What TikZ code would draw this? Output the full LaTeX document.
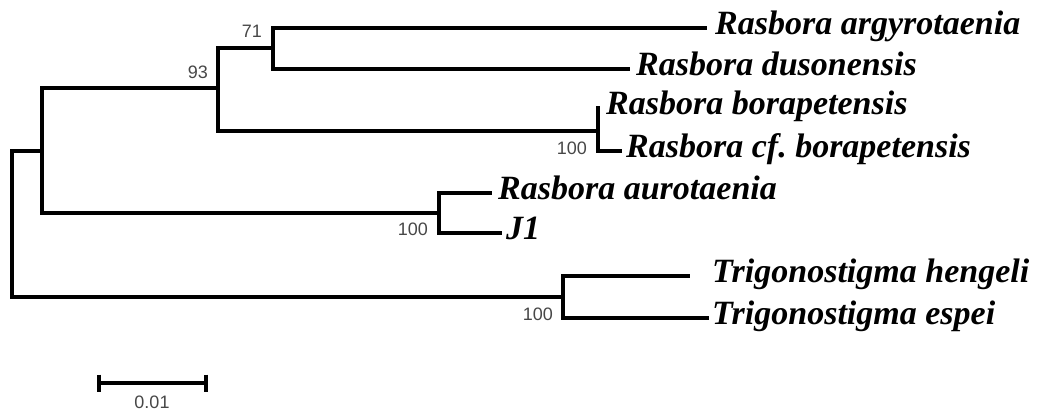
\documentclass[tikz,border=0pt]{standalone}
\usepackage{fontspec}
\setmainfont{Liberation Serif}
\newfontfamily\bsfont{Liberation Sans}
\frenchspacing
\begin{document}
\begin{tikzpicture}[x=1pt,y=-1pt,
  branch/.style={line width=3.2pt,line cap=rect,line join=miter},
  taxon/.style={anchor=base west,inner sep=0pt,font=\fontsize{34}{34}\selectfont\bfseries\itshape},
  boot/.style={anchor=east,inner sep=0pt,text=black!72,font=\bsfont\fontsize{18}{18}\selectfont},
  scalelab/.style={anchor=center,inner sep=0pt,text=black!72,font=\bsfont\fontsize{18}{18}\selectfont}]
\useasboundingbox (0,0) rectangle (1037,410);
% internal nodes
\coordinate (root) at (12,223);
\coordinate (nA) at (42,151);
\coordinate (n93) at (218,88);
\coordinate (n71) at (273,48);
\coordinate (nB) at (598,131);
\coordinate (nJ) at (439,213);
\coordinate (nT) at (563,297);
% leaves
\coordinate (lArg) at (705,28);
\coordinate (lDus) at (628,69);
\coordinate (lBor) at (598,108);
\coordinate (lCfb) at (620,151);
\coordinate (lAur) at (490,193);
\coordinate (lJ1) at (500,233);
\coordinate (lHen) at (688,276);
\coordinate (lEsp) at (707,318);
% branches
\draw[branch] (root) |- (nA);
\draw[branch] (root) |- (nT);
\draw[branch] (nA) |- (n93);
\draw[branch] (nA) |- (nJ);
\draw[branch] (n93) |- (n71);
\draw[branch] (n93) |- (nB);
\draw[branch] (n71) |- (lArg);
\draw[branch] (n71) |- (lDus);
\draw[branch] (nB) |- (lBor);
\draw[branch] (nB) |- (lCfb);
\draw[branch] (nJ) |- (lAur);
\draw[branch] (nJ) |- (lJ1);
\draw[branch] (nT) |- (lHen);
\draw[branch] (nT) |- (lEsp);
% taxon labels
\node[taxon] (tArg) at ([xshift=10pt,yshift=-6pt]lArg) {Rasbora argyrotaenia};
\node[taxon] (tDus) at ([xshift=8pt,yshift=-6pt]lDus) {Rasbora dusonensis};
\node[taxon] (tBor) at ([xshift=8pt,yshift=-6pt]lBor) {Rasbora borapetensis};
\node[taxon] (tCfb) at ([xshift=6pt,yshift=-6pt]lCfb) {Rasbora cf. borapetensis};
\node[taxon] (tAur) at ([xshift=8pt,yshift=-6pt]lAur) {Rasbora aurotaenia};
\node[taxon] (tJ1) at ([xshift=6pt,yshift=-6pt]lJ1) {J1};
\node[taxon] (tHen) at ([xshift=24pt,yshift=-6pt]lHen) {Trigonostigma hengeli};
\node[taxon] (tEsp) at ([xshift=5pt,yshift=-6pt]lEsp) {Trigonostigma espei};
% bootstrap values
\node[boot] (b71) at (262,31) {71};
\node[boot] (b93) at (208,72) {93};
\node[boot] (bB) at (587,148) {100};
\node[boot] (bJ) at (428,229) {100};
\node[boot] (bT) at (553,314) {100};
% scale bar
\coordinate (sL) at (99,383);
\coordinate (sR) at (206,383);
\draw[line width=3.2pt] (sL) -- (sR);
\draw[line width=3.2pt] ([yshift=8.5pt]sL) -- ([yshift=-8.5pt]sL);
\draw[line width=3.2pt] ([yshift=8.5pt]sR) -- ([yshift=-8.5pt]sR);
\node[scalelab] (sLab) at (152,402) {0.01};
\end{tikzpicture}
\end{document}
